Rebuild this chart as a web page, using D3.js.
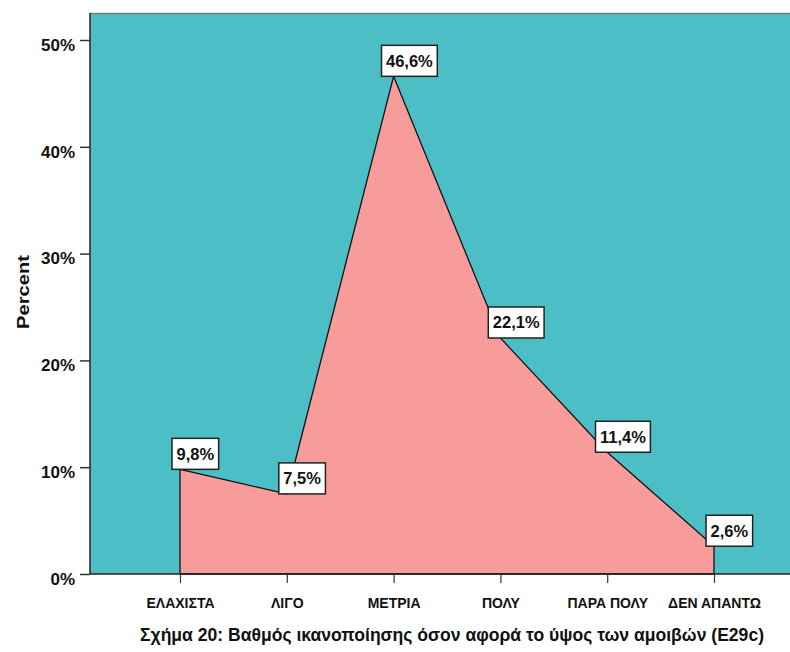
<!DOCTYPE html>
<html><head><meta charset="utf-8">
<script src="https://cdn.jsdelivr.net/npm/d3@7"></script>
<style>body{margin:0;background:#fff}svg{display:block}</style>
</head><body>
<svg id="c" width="790" height="652"></svg>
<script>
const categories = ["ΕΛΑΧΙΣΤΑ", "ΛΙΓΟ", "ΜΕΤΡΙΑ", "ΠΟΛΥ", "ΠΑΡΑ ΠΟΛΥ", "ΔΕΝ ΑΠΑΝΤΩ"];
const values = [9.8, 7.5, 46.6, 22.1, 11.4, 2.6];
const valueLabels = ["9,8%", "7,5%", "46,6%", "22,1%", "11,4%", "2,6%"];
const yTicks = [0, 10, 20, 30, 40, 50];
const yTitle = "Percent";
const caption = "Σχήμα 20: Βαθμός ικανοποίησης όσον αφορά το ύψος των αμοιβών (E29c)";

const FONT = "'Liberation Sans',Arial,sans-serif";
const svg = d3.select("#c");
const L = 90, R = 790, T = 13, B = 574;

const x = d3.scalePoint().domain(categories).range([180, 714]);
const y = d3.scaleLinear().domain([0, 52.53]).range([B, T]);

svg.append("rect").attr("x", L).attr("y", T).attr("width", R - L).attr("height", B - T)
  .attr("fill", "#4CBFC6");
svg.append("line").attr("x1", L).attr("x2", R).attr("y1", T + 0.5).attr("y2", T + 0.5)
  .attr("stroke", "#6f7f80").attr("stroke-width", 1.5);

const data = categories.map((c, i) => ({c, v: values[i], lab: valueLabels[i]}));
const area = d3.area().x(d => x(d.c)).y0(y(0)).y1(d => y(d.v));
svg.append("path").datum(data).attr("d", area)
  .attr("fill", "#F89B9B").attr("stroke", "#111").attr("stroke-width", 1.3);

// axes
const yAxis = svg.append("g").attr("transform", `translate(${L},0)`)
  .call(d3.axisLeft(y).tickValues(yTicks).tickFormat(d => d + "%").tickSize(10).tickSizeOuter(0));
yAxis.select(".domain").attr("stroke", "#222").attr("stroke-width", 1.5).attr("d", `M0,${T}V${B}`);
yAxis.selectAll(".tick line").attr("stroke", "#333").attr("stroke-width", 1.5);
yAxis.selectAll(".tick text").attr("font-family", FONT).attr("font-size", 17)
  .attr("font-weight", "bold").attr("fill", "#111").attr("x", -15).attr("dy", "0.6em");

const xAxis = svg.append("g").attr("transform", `translate(0,${B})`)
  .call(d3.axisBottom(x).tickSize(9).tickSizeOuter(0));
xAxis.select(".domain").attr("stroke", "#222").attr("stroke-width", 1.5).attr("d", `M${L},0H${R}`);
xAxis.selectAll(".tick line").attr("stroke", "#333").attr("stroke-width", 1.2);
xAxis.selectAll(".tick text").attr("font-family", FONT).attr("font-size", 14)
  .attr("font-weight", "bold").attr("fill", "#111").attr("y", 34).attr("dy", 0);

// value labels
const lg = svg.append("g").selectAll("g").data(data).join("g");
lg.each(function(d) {
  const g = d3.select(this);
  const px = x(d.c), py = y(d.v);
  const t = g.append("text").text(d.lab).attr("font-family", FONT).attr("font-size", 16.5)
    .attr("font-weight", "bold").attr("fill", "#111");
  const w = t.node().getComputedTextLength();
  const bw = w + 9, bh = 31;
  const bx = px - (bw * 0.45 - 13), by = py - bh;
  g.insert("rect", "text").attr("x", bx).attr("y", by).attr("width", bw).attr("height", bh)
    .attr("fill", "#fff").attr("stroke", "#222").attr("stroke-width", 1.5);
  t.attr("x", bx + 4.5).attr("y", by + bh / 2).attr("dy", "0.36em");
});

svg.append("text").text(yTitle).attr("transform", `translate(29,292) rotate(-90)`)
  .attr("text-anchor", "middle").attr("font-family", FONT).attr("font-size", 17)
  .attr("font-weight", "bold").attr("fill", "#111")
  .attr("textLength", 74).attr("lengthAdjust", "spacingAndGlyphs");

svg.append("text").text(caption).attr("x", 140).attr("y", 641)
  .attr("font-family", FONT).attr("font-size", 18).attr("font-weight", "bold").attr("fill", "#111")
  .attr("textLength", 624).attr("lengthAdjust", "spacingAndGlyphs");
</script>
</body></html>
